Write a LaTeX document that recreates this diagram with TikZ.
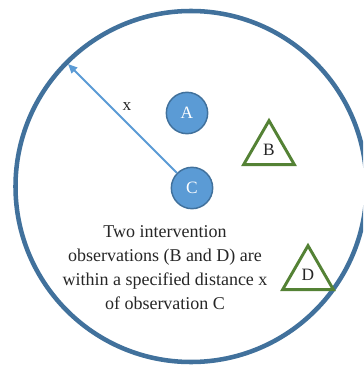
\documentclass[tikz,border=0pt]{standalone}
\usepackage{fontspec}
\setmainfont{Liberation Serif}
\usetikzlibrary{shapes.geometric, arrows.meta, positioning}
\definecolor{ringblue}{HTML}{41719C}
\definecolor{dotblue}{HTML}{5B9BD5}
\definecolor{trigreen}{HTML}{548235}
\definecolor{textgray}{HTML}{262626}

\begin{document}
\begin{tikzpicture}[x=0.75pt, y=-0.75pt,
    obs/.style={circle, draw=ringblue, line width=1.1pt, fill=dotblue,
                minimum size=31pt, inner sep=0pt, text=white, font=\fontsize{13}{15}\selectfont},
    treat/.style={regular polygon, regular polygon sides=3, draw=trigreen, line width=2.2pt,
                  fill=white, minimum size=44pt, inner sep=0pt, text=textgray,
                  font=\fontsize{13}{15}\selectfont}]
    % --- Quadro ---
    \clip (0,0) rectangle (363,366);
    \useasboundingbox (0,0) rectangle (363,366);
    % --- Circulo de distancia ---
    \coordinate (ctr) at (191,186.5);
    \draw[ringblue, line width=3.4pt] (ctr) circle [radius=175.5];
    \coordinate (tip) at (68,64);
    % --- Observacoes ---
    \node[obs] (A) at (187,113) {A};
    \node[obs] (C) at (192,188) {C};
    \node[treat] (B) at (269,150) {B};
    \node[treat] (D) at (308,275) {D};
    % --- Raio x ---
    \draw[-{Triangle[length=7pt, width=6pt]}, dotblue, line width=1.5pt] (C) -- (tip);
    \node[text=textgray, font=\fontsize{13}{15}\selectfont] (xlab) at (127,107) {x};
    % --- Legenda ---
    \node[align=center, text=textgray, font=\fontsize{13.5}{18}\selectfont] (note) at (165,268)
      {Two intervention\\observations (B and D) are\\within a specified distance x\\of observation C};
\end{tikzpicture}
\end{document}
